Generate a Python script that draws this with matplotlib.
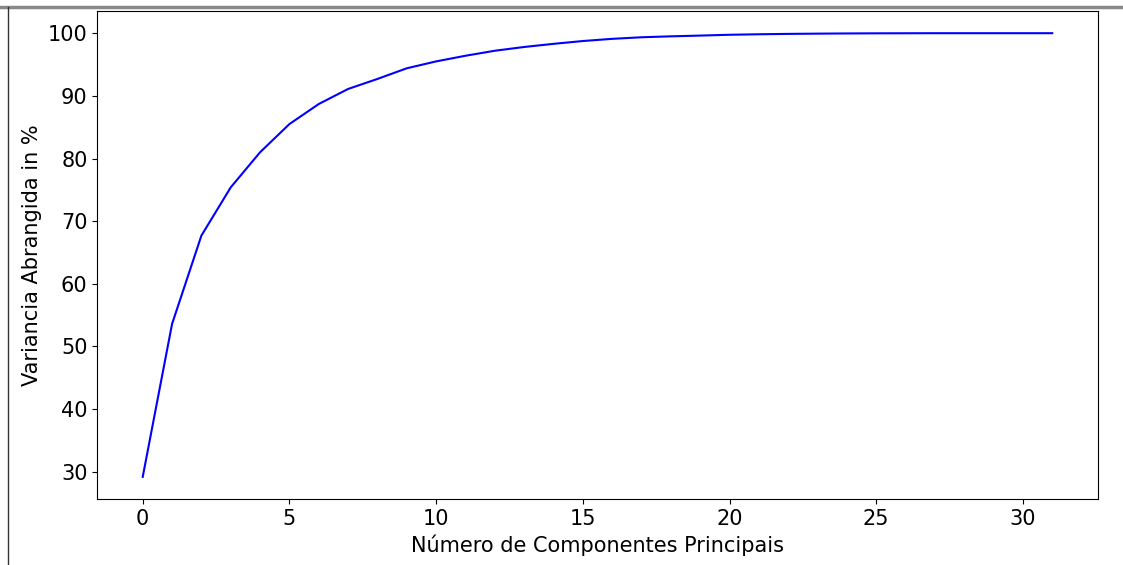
import matplotlib
matplotlib.use("Agg")
import matplotlib.pyplot as plt
from matplotlib.lines import Line2D

# Cumulative explained variance (%) per number of principal components
components = list(range(32))
cumulative_variance = [
    29.2, 53.6, 67.7, 75.4, 81.0, 85.5, 88.7, 91.1, 92.7, 94.4,
    95.5, 96.4, 97.2, 97.8, 98.3, 98.75, 99.1, 99.35, 99.5, 99.62,
    99.75, 99.83, 99.89, 99.93, 99.96, 99.98, 99.99, 100.0, 100.0, 100.0,
    100.0, 100.0,
]

fig = plt.figure(figsize=(11.23, 5.65), dpi=100)
ax = fig.add_axes([0.0866, 0.1168, 0.8909, 0.8637])
ax.plot(components, cumulative_variance, color="blue", linewidth=1.5)

ax.set_xlabel("Número de Componentes Principais", fontsize=15)
ax.set_ylabel("Variancia Abrangida in %", fontsize=15)
ax.tick_params(labelsize=15)

# frame edges of the surrounding notebook cell
fig.add_artist(Line2D([0, 1], [1 - 7 / 565, 1 - 7 / 565], color="#888888", linewidth=2.5))
fig.add_artist(Line2D([8 / 1123, 8 / 1123], [0, 1 - 7 / 565], color="#333333", linewidth=1.0))

fig.savefig("out.png", dpi=100)
